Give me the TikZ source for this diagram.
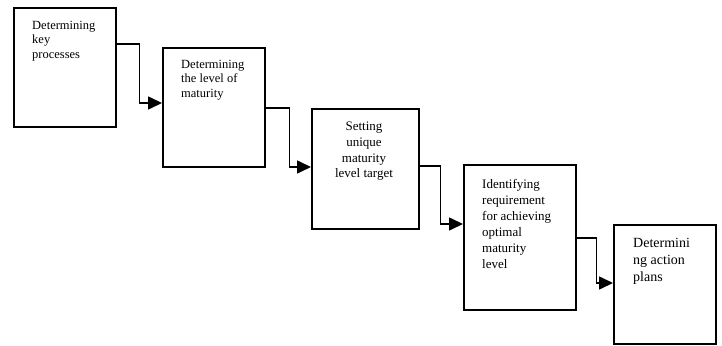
\documentclass[tikz,border=0pt]{standalone}
\usepackage{fontspec}
\setmainfont{Liberation Serif}
\usetikzlibrary{arrows.meta,calc}
\begin{document}
\begin{tikzpicture}[x=1pt,y=-1pt,
  stepbox/.style={draw,line width=1.6pt,rectangle,inner sep=0pt,anchor=north west},
  conn/.style={line width=1.6pt,-{Triangle[length=14pt,width=13pt]}},
  lbl/.style={inner sep=0pt,anchor=north west,align=left},
  lblc/.style={inner sep=0pt,anchor=north,align=center},
]
\useasboundingbox (0,0) rectangle (722,345);
\node[stepbox,minimum width=102pt,minimum height=119pt] (b1) at (13,7) {};
\node[stepbox,minimum width=102pt,minimum height=119pt] (b2) at (162,47) {};
\node[stepbox,minimum width=107pt,minimum height=120pt] (b3) at (311,108) {};
\node[stepbox,minimum width=112pt,minimum height=145pt] (b4) at (463,164) {};
\node[stepbox,minimum width=102pt,minimum height=119pt] (b5) at (613,224) {};

\node[lbl,font=\fontsize{12.5}{14.5}\selectfont] (t1) at (32,21) {Determining\\key\\processes};
\node[lbl,font=\fontsize{12.5}{14.5}\selectfont] (t2) at (181,60) {Determining\\the level of\\maturity};
\node[lblc,font=\fontsize{13}{15.7}\selectfont] (t3) at (364,122) {Setting\\unique\\maturity\\level target};
\node[lbl,font=\fontsize{13}{16}\selectfont] (t4) at (482,179) {Identifying\\requirement\\for achieving\\optimal\\maturity\\level};
\node[lbl,font=\fontsize{14}{17}\selectfont] (t5) at (633,238.5) {Determini\\ng action\\plans};

\draw[conn] ([yshift=-37pt]b1.north east) -- ++(23,0) |- ([yshift=-56pt]b2.north west);
\draw[conn] ([yshift=-61pt]b2.north east) -- ++(24,0) |- ([yshift=-59pt]b3.north west);
\draw[conn] ([yshift=-58pt]b3.north east) -- ++(21,0) |- ([yshift=-60pt]b4.north west);
\draw[conn] ([yshift=-74pt]b4.north east) -- ++(20,0) |- ([yshift=-59pt]b5.north west);
\end{tikzpicture}
\end{document}
